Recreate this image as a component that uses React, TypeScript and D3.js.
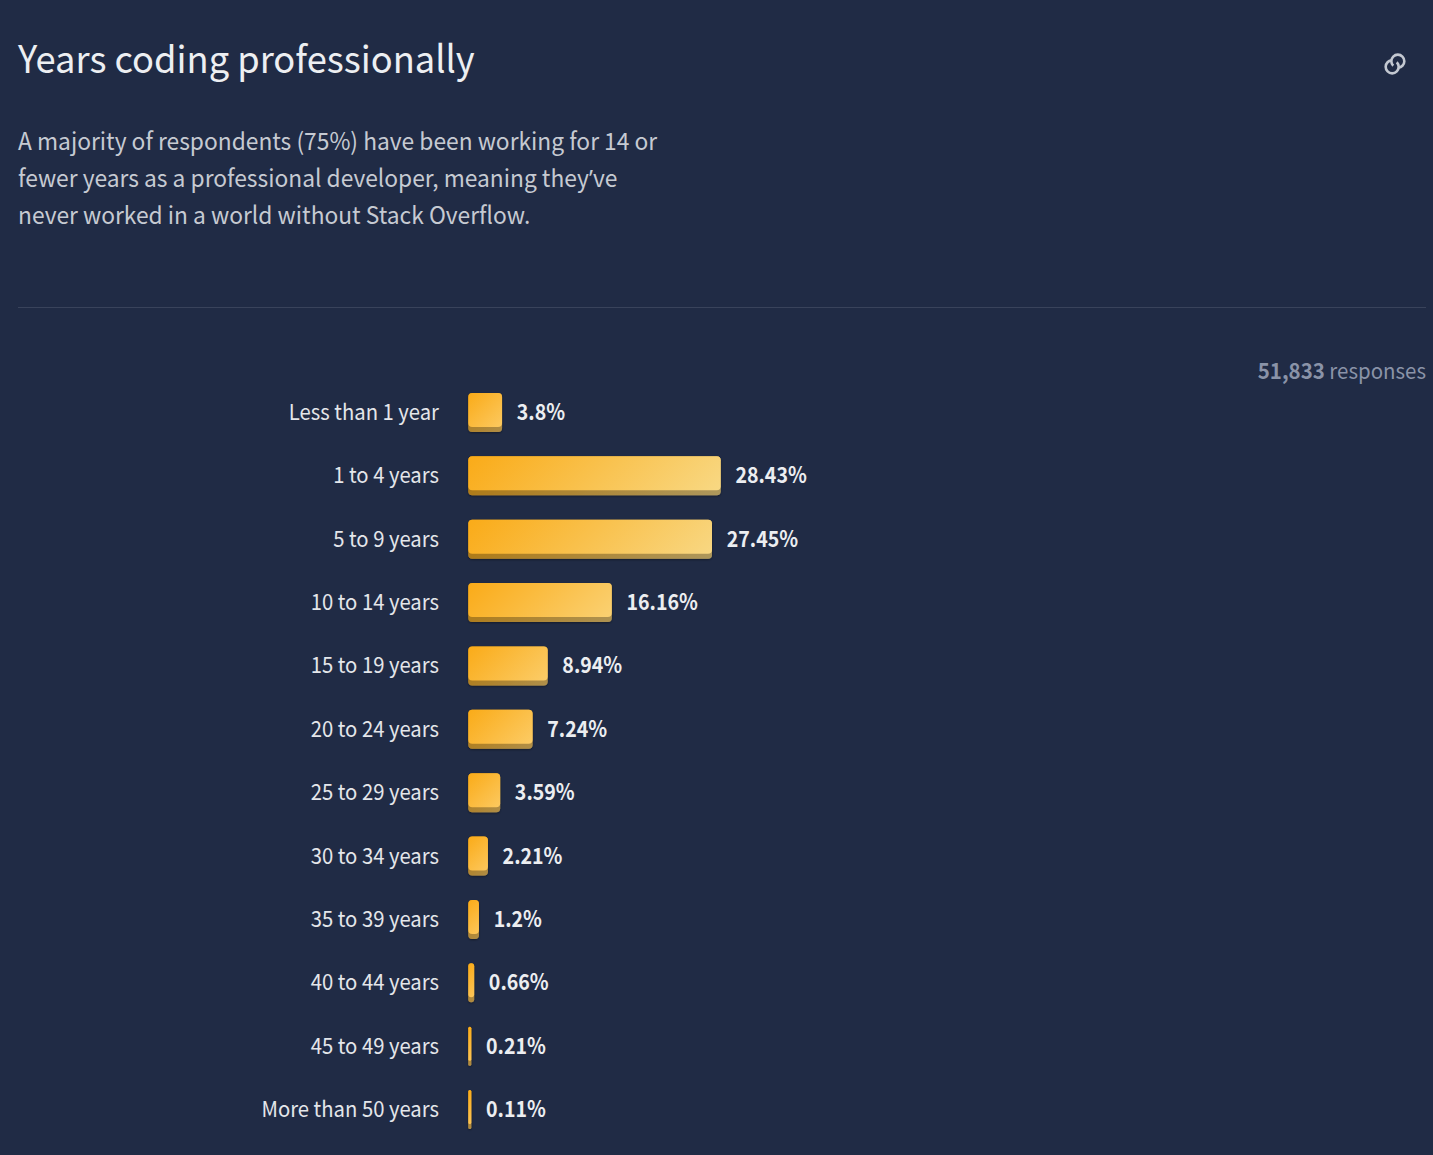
import React from "react";
import * as d3 from "d3";

const categories = ["Less than 1 year","1 to 4 years","5 to 9 years","10 to 14 years","15 to 19 years","20 to 24 years","25 to 29 years","30 to 34 years","35 to 39 years","40 to 44 years","45 to 49 years","More than 50 years"];
const values = [3.8,28.43,27.45,16.16,8.94,7.24,3.59,2.21,1.2,0.66,0.21,0.11];
const descLines = ["A majority of respondents (75%) have been working for 14 or","fewer years as a professional developer, meaning they|ve","never worked in a world without Stack Overflow."];

const W = 1433, H = 1155;
const FONT = "'Noto Sans CJK SC','Noto Sans',sans-serif";

function T({x,y,sx=1,anchor,size,fill,weight,pnum,children}:any){
  return <text transform={`translate(${x},${y}) scale(${sx},1)`} textAnchor={anchor} fontSize={size} fill={fill} fontWeight={weight} style={pnum?{fontFeatureSettings:"'pnum'"}:undefined}>{children}</text>;
}

export default function App() {
  const x = d3.scaleLinear().domain([0, 28.43]).range([0, 252.4]);
  const y = d3.scalePoint<string>().domain(categories).range([412.5, 1109.5]);
  const endColor = d3.interpolateRgb("#fdc960", "#f8d985");
  const maxW = x(28.43);
  const barH = 39;
  const x0 = 468.3;
  return (
    <svg width={W} height={H} viewBox={`0 0 ${W} ${H}`} style={{position:"fixed",left:0,top:0,display:"block",background:"#202b45",fontFamily:FONT}}>
      <defs>
        {categories.map((c,i)=>{
          const w = Math.max(x(values[i]),3);
          const cy = y(c)!;
          const cx = x0+w/2;
          const d = (w+barH)/4;
          return (
            <linearGradient key={c} id={`g${i}`} gradientUnits="userSpaceOnUse" x1={cx-d} y1={cy-d} x2={cx+d} y2={cy+d}>
              <stop offset="0" stopColor="#faab18"/>
              <stop offset="1" stopColor={endColor(w/maxW)}/>
            </linearGradient>
          );
        })}
        <filter id="sh" x="-30%" y="-30%" width="160%" height="160%">
          <feDropShadow dx="0" dy="1" stdDeviation="1.2" floodColor="#000" floodOpacity="0.4"/>
        </filter>
      </defs>
      <rect width={W} height={H} fill="#202b45"/>
      <T x={18} y={73} sx={0.967} size={37.5} fill="#edeff2">Years coding professionally</T>
      {descLines.map((l,i)=>{
        const parts = l.split("|");
        return (
          <T key={i} x={18} y={149.5+i*37} sx={0.95} size={24} fill="#c6cad2">
            {parts[0]}{parts.length>1 && <><tspan fontFamily="'Noto Sans'">’</tspan>{parts[1]}</>}
          </T>
        );
      })}
      <line x1={18} x2={1426} y1={307.5} y2={307.5} stroke="#39435b" strokeWidth={1}/>
      <g transform="translate(1395,64) rotate(-45)" fill="none" stroke="#c3c8d1" strokeWidth={2.6}>
        <circle cx={-4} cy={0} r={6.5} pathLength={100} strokeDasharray="85.6 14.4"/>
        <g transform="rotate(180)">
          <circle cx={-4} cy={0} r={6.5} pathLength={100} strokeDasharray="85.6 14.4"/>
        </g>
      </g>
      <T x={1426} y={379} sx={0.93} anchor="end" size={22} fill="#8a93a8" pnum>
        <tspan fontWeight={700}>51,833</tspan><tspan> responses</tspan>
      </T>
      {categories.map((c,i)=>{
        const w = Math.max(x(values[i]),3);
        const cy = y(c)!;
        const top = cy-barH/2;
        const rx = Math.min(4,w/2);
        return (
          <g key={c}>
            <T x={439} y={cy+7.5} sx={0.93} anchor="end" size={21.8} fill="#e4e6ea" pnum>{c}</T>
            <rect x={x0} y={top} width={w} height={barH} rx={rx} fill={`url(#g${i})`} filter="url(#sh)"/>
            <rect x={x0} y={top} width={w} height={barH} rx={rx} fill="#000" fillOpacity={0.3}/>
            <rect x={x0} y={top} width={w} height={barH-5} rx={rx} fill={`url(#g${i})`}/>
            <T x={x0+w+14.7} y={cy+7.5} sx={0.89} size={22} weight={700} fill="#eceef1" pnum>{values[i]}%</T>
          </g>
        );
      })}
    </svg>
  );
}
